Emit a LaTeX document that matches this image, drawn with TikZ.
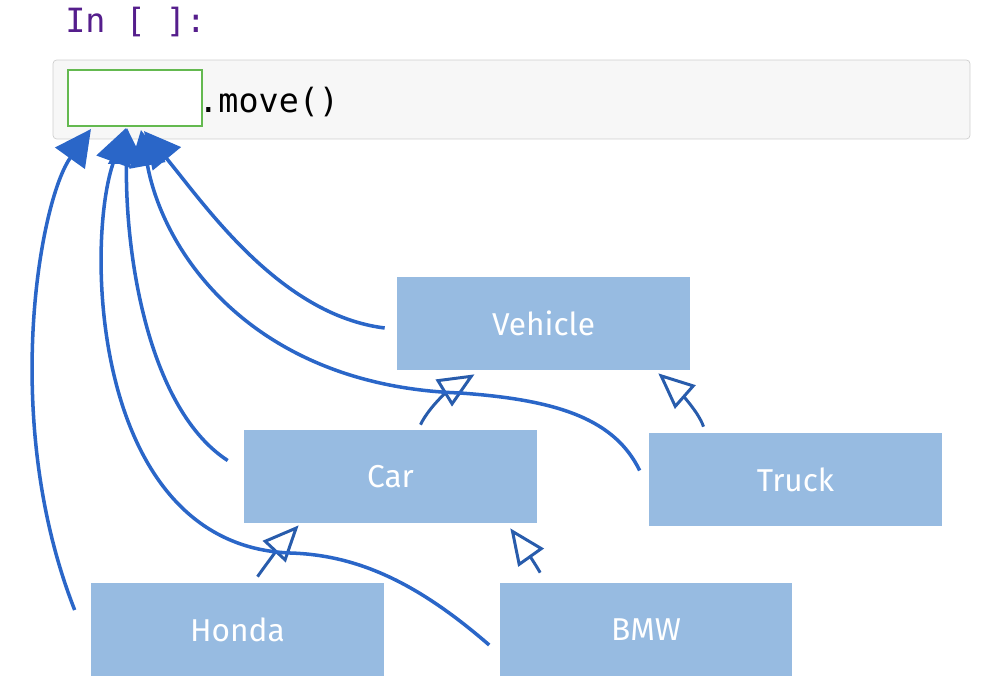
\documentclass[tikz,border=0pt]{standalone}
\usepackage{fontspec}
\setmainfont{Fira Sans}
\setmonofont{DejaVu Sans Mono}
\usetikzlibrary{arrows.meta,positioning,calc}
\definecolor{classfill}{RGB}{151,187,225}
\definecolor{cellfill}{RGB}{247,247,247}
\definecolor{cellborder}{RGB}{207,207,207}
\definecolor{slotgreen}{RGB}{100,185,80}
\definecolor{promptpurple}{RGB}{85,30,140}
\definecolor{callblue}{RGB}{42,102,200}
\definecolor{lineblue}{RGB}{40,92,172}

\begin{document}
\begin{tikzpicture}[
  x=0.02cm,y=-0.02cm,
  class/.style={fill=classfill,text=white,minimum width=5.86cm,minimum height=1.86cm,
    inner sep=0pt,font=\fontsize{18}{21}\selectfont},
  cell/.style={draw=cellborder,fill=cellfill,rounded corners=2pt,
    minimum width=18.34cm,minimum height=1.58cm,inner sep=0pt},
  slot/.style={draw=slotgreen,line width=1.2pt,fill=white,
    minimum width=2.68cm,minimum height=1.12cm,inner sep=0pt},
  code/.style={font=\ttfamily\fontsize{19}{22}\selectfont,inner sep=0pt},
  call/.style={-{Triangle[length=0.72cm,width=0.72cm]},line width=2pt,draw=callblue},
  inherit/.style={-{Triangle[fill=white,length=0.72cm,width=0.62cm]},line width=1.7pt,draw=lineblue}]

  \useasboundingbox (0,0) rectangle (992,689);

  % notebook cell
  \node[code,text=promptpurple,anchor=base west] (prompt) at (65,33) {In [ ]:};
  \node[cell] (cell) at (511.5,99.5) {};
  \node[slot] (slot) at (135,98) {};
  \node[code,anchor=base west] (call) at ($(slot.east)+(-5,15)$) {.move()};

  % classes
  \node[class] (vehicle) at (543.5,323.5) {Vehicle};
  \node[class] (car) at (390.5,476.5) {Car};
  \node[class] (truck) at (795.5,479.5) {Truck};
  \node[class] (honda) at (237.5,629.5) {Honda};
  \node[class] (bmw) at (646,629.5) {BMW};

  % inheritance
  \draw[inherit] ($(car.north)+(30,-5)$) .. controls (430,405) and (452,388)
      .. ($(vehicle.south)+(-69,4)$);
  \draw[inherit] ($(truck.north)+(-92,-6)$) .. controls (698,410) and (675,388)
      .. ($(vehicle.south east)+(-32,3)$);
  \draw[inherit] ($(honda.north)+(20,-6)$) .. controls (267,563) and (285,540)
      .. ($(car.south west)+(55,2)$);
  \draw[inherit] ($(bmw.north west)+(41,-10)$) .. controls (533,560) and (520,542)
      .. ($(car.south east)+(-27,5)$);

  % calls of move()
  \draw[call] ($(honda.west)+(-16,-19.5)$) .. controls (0,420) and (40,200)
      .. ($(slot.south west)+(24,2)$);
  \draw[call] ($(bmw.west)+(-10,15.5)$) .. controls (420,585) and (360,555) .. (290,553)
      .. controls (90,545) and (85,240) .. ($(slot.south west)+(59,1)$);
  \draw[call] ($(car.west)+(-16,-16)$) .. controls (150,410) and (125,260)
      .. ($(slot.south west)+(60,1)$);
  \draw[call] ($(truck.west)+(-9,-9)$) .. controls (615,420) and (560,400) .. (460,393)
      .. controls (260,386) and (165,260) .. ($(slot.south west)+(74,3)$);
  \draw[call] ($(vehicle.west)+(-12,4.5)$) .. controls (280,315) and (205,205)
      .. ($(slot.south west)+(77,4)$);

\end{tikzpicture}
\end{document}
